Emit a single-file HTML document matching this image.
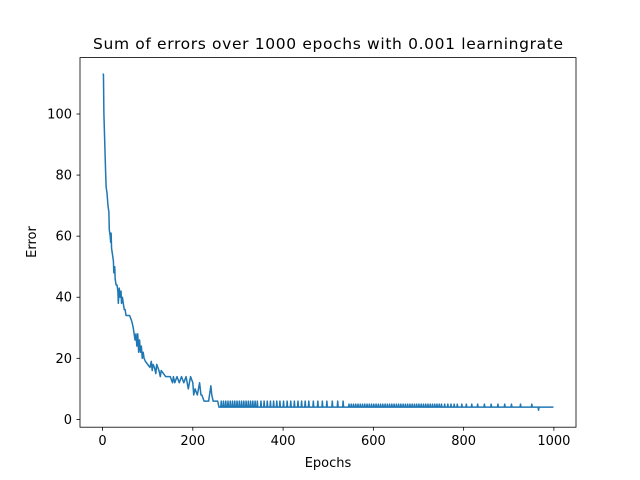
<!DOCTYPE html>
<html><head><meta charset="utf-8"><style>
body{margin:0;background:#fff}
svg{display:block;font-family:"DejaVu Sans","Liberation Sans",sans-serif}
</style></head><body>
<svg id="c" width="640" height="480" viewBox="0 0 640 480">
<rect x="0" y="0" width="640" height="480" fill="#fff"/>
<text x="328" y="49" font-size="15.5" text-anchor="middle" textLength="470">Sum of errors over 1000 epochs with 0.001 learningrate</text>
<g id="plot"></g>
<rect x="80" y="57.6" width="496" height="369.6" fill="none" stroke="#000" stroke-width="0.8"/>
<g id="ticks"></g>
<text x="328" y="467" font-size="13" text-anchor="middle">Epochs</text>
<text x="36" y="242" font-size="13" text-anchor="middle" transform="rotate(-90 36 242)">Error</text>
</svg>
<script>
const mainEpochs=[0,2,3,5,7,8,10,12,14,15,17,18,19,20,22,24,25,27,28,30,32,34,35,37,39,41,42,44,46,48,50,52,60,65,68,70,72,74,76,78,80,82,84,86,88,90,92,95,100,105,108,110,112,115,118,120,125,128,130,135,140,150,155,157,160,165,170,175,180,185,190,195,200,202,205,210,215,218,220,225,235,240,242,245,255,258];
const mainErrors=[113,113,100,90,80,76,74,70,68,62,60,58,61,56,54,52,48,50,46,44,44,42,38,43,40,42,38,40,38,36,36,34,34,32,30,28,26,28,24,28,22,26,22,24,20,22,20,19,18,17,19,16,18,17,15,18,16,14,16,15,14,14,12,14,12,14,12,14,12,14,10,14,12,8,10,8,12,8,8,6,6,11,8,6,6,4];
const baseError=4;
const spikeHighEpochs=[262,267,272,277,282,287,292,297,302,307,312,317,322,327,332,337,342,350,357,364,371,378,385,392,400,408,416,424,432,440,448,456,466,476,486,496,508,520,532];
const spikeHigh=6;
const spikeMidEpochs=[545,550,555,560,565,570,575,580,585,590,595,600,605,610,615,620,625,630,635,640,645,650,655,660,665,670,675,680,685,690,695,700,705,710,715,720,725,730,735,740,745,750,757,764,771,778,785,795,805,817,830,845,860,875,890,905,925,950];
const spikeMid=5;
const dipEpochs=[965];
const dipValue=3;
const lastEpoch=999;
const xTicks=[0,200,400,600,800,1000];
const yTicks=[0,20,40,60,80,100];

const X=v=>80+(v+49.95)*496/1098.9;
const Y=v=>419.4-v*3.054;
const NS="http://www.w3.org/2000/svg";
// build series
let pts=mainEpochs.map((e,i)=>[e,mainErrors[i]]);
let spikes=[];
spikeHighEpochs.forEach(e=>spikes.push([e,spikeHigh]));
spikeMidEpochs.forEach(e=>spikes.push([e,spikeMid]));
dipEpochs.forEach(e=>spikes.push([e,dipValue]));
spikes.sort((a,b)=>a[0]-b[0]);
spikes.forEach(([e,h])=>{pts.push([e,baseError]);pts.push([e+1,h]);pts.push([e+2,baseError]);});
pts.push([lastEpoch,baseError]);
const line=document.createElementNS(NS,'polyline');
line.setAttribute('points',pts.map(p=>X(p[0]).toFixed(2)+','+Y(p[1]).toFixed(2)).join(' '));
line.setAttribute('fill','none');line.setAttribute('stroke','#1f77b4');line.setAttribute('stroke-width','1.5');line.setAttribute('stroke-linejoin','round');


document.getElementById('plot').appendChild(line);
const tg=document.getElementById('ticks');
xTicks.forEach(t=>{
  const l=document.createElementNS(NS,'line');
  l.setAttribute('x1',X(t));l.setAttribute('x2',X(t));l.setAttribute('y1',427.2);l.setAttribute('y2',430.7);l.setAttribute('stroke','#000');l.setAttribute('stroke-width','0.8');
  
  
  tg.appendChild(l);
  const s=document.createElementNS(NS,'text');
  s.setAttribute('x',X(t));s.setAttribute('y',445);s.setAttribute('font-size','13');s.setAttribute('text-anchor','middle');s.textContent=t;
  
  
  tg.appendChild(s);
});
yTicks.forEach(t=>{
  const l=document.createElementNS(NS,'line');
  l.setAttribute('x1',76.5);l.setAttribute('x2',80);l.setAttribute('y1',Y(t));l.setAttribute('y2',Y(t));l.setAttribute('stroke','#000');l.setAttribute('stroke-width','0.8');
  
  
  tg.appendChild(l);
  const s=document.createElementNS(NS,'text');
  s.setAttribute('x',72);s.setAttribute('y',Y(t)+4.5);s.setAttribute('font-size','13');s.setAttribute('text-anchor','end');s.textContent=t;
  
  
  tg.appendChild(s);
});
</script>
</body></html>
